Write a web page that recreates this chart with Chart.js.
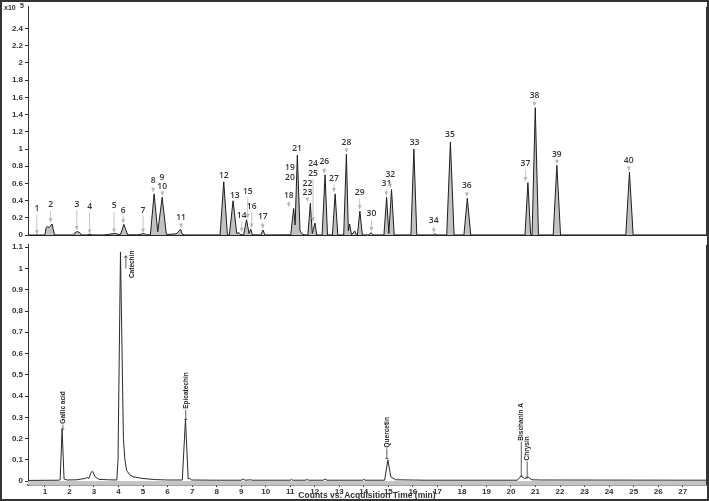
<!DOCTYPE html>
<html>
<head>
<meta charset="utf-8">
<script src="https://cdn.jsdelivr.net/npm/chart.js@4.4.1/dist/chart.umd.min.js"></script>
<style>
  html, body { margin: 0; padding: 0; background: #fff; }
  #wrap { position: absolute; left: 0; top: 0; width: 709px; height: 501px; overflow: hidden; }
  #topChart { position: absolute; left: 0; top: 0; }
  #bottomChart { position: absolute; left: 0; top: 238px; }
  #frame { position: absolute; left: 0; top: 0; width: 709px; height: 501px; box-sizing: border-box;
           border: 2px solid #333; pointer-events: none; }
</style>
</head>
<body>
<div id="wrap">
  <canvas id="topChart" width="709" height="242"></canvas>
  <canvas id="bottomChart" width="709" height="263"></canvas>
  <div id="frame"></div>
</div>
<script>
// Time axis (min)
const timeMin = 0.31;
const timeMax = 27.95;
const timeTicks = [1, 2, 3, 4, 5, 6, 7, 8, 9, 10, 11, 12, 13, 14, 15, 16, 17, 18, 19, 20, 21, 22, 23, 24, 25, 26, 27];

// Upper chromatogram (counts x10^5)
const topTicks = [0, 0.2, 0.4, 0.6, 0.8, 1, 1.2, 1.4, 1.6, 1.8, 2, 2.2, 2.4];
const topTime = [
  0.31, 0.6, 0.67, 0.74, 1.0, 1.05, 1.1, 1.18, 1.29, 1.39, 2.18, 2.25, 2.33, 2.42, 2.48,
  2.72, 2.83, 2.95, 3.4, 3.6, 3.85, 4.02, 4.08, 4.22, 4.37, 4.8, 4.95, 5.05, 5.15,
  5.3, 5.45, 5.6, 5.78, 5.95, 6.1, 6.3, 6.38, 6.47, 6.53, 6.6, 6.7,
  8.14, 8.29, 8.44, 8.52, 8.67, 8.82, 8.91, 8.98, 9.1, 9.22, 9.32, 9.39, 9.46,
  9.8, 9.89, 9.97, 11.02, 11.14, 11.2, 11.29, 11.4, 11.5, 11.6,
  11.72, 11.82, 11.9, 12.01, 12.08, 12.3, 12.42, 12.52, 12.72, 12.83, 12.94,
  13.18, 13.29, 13.37, 13.42, 13.5, 13.63, 13.7, 13.74, 13.84, 13.94,
  14.2, 14.29, 14.38, 14.82, 14.93, 15.02, 15.13, 15.24,
  15.92, 16.04, 16.16, 16.85, 16.9, 16.95, 17.38, 17.53, 17.68, 18.08, 18.22, 18.36,
  20.57, 20.69, 20.8, 20.86, 20.99, 21.12, 21.72, 21.87, 22.02, 24.68, 24.83, 24.98, 27.95
];
const topSignal = [
  0.002, 0.002, 0.005, 0.002, 0.003, 0.09, 0.1, 0.09, 0.13, 0.003, 0.003, 0.035, 0.042, 0.03, 0.003,
  0.003, 0.012, 0.003, 0.003, 0.01, 0.02, 0.008, 0.01, 0.125, 0.005, 0.004, 0.015, 0.018, 0.005,
  0.005, 0.48, 0.04, 0.44, 0.01, 0.01, 0.015, 0.02, 0.05, 0.07, 0.01, 0.003,
  0.003, 0.62, 0.005, 0.005, 0.4, 0.02, 0.03, 0.005, 0.005, 0.18, 0.02, 0.07, 0.005,
  0.003, 0.06, 0.003, 0.005, 0.31, 0.12, 0.93, 0.05, 0.01, 0.003,
  0.003, 0.37, 0.02, 0.14, 0.003, 0.003, 0.7, 0.003, 0.003, 0.48, 0.003,
  0.003, 0.94, 0.05, 0.13, 0.005, 0.05, 0.003, 0.003, 0.28, 0.003,
  0.003, 0.03, 0.003, 0.003, 0.44, 0.02, 0.53, 0.003,
  0.003, 1.0, 0.003, 0.003, 0.02, 0.003, 0.003, 1.08, 0.003, 0.003, 0.43, 0.003,
  0.003, 0.61, 0.01, 0.003, 1.48, 0.003, 0.003, 0.81, 0.003, 0.003, 0.73, 0.003, 0.003
];

// Peak numbers of the upper trace
const peakNumbers = ["1", "2", "3", "4", "5", "6", "7", "8", "9", "10", "11", "12", "13", "14", "15", "16", "17", "18", "19", "20",
  "21", "22", "23", "24", "25", "26", "27", "28", "29", "30", "31", "32", "33", "34", "35", "36", "37", "38", "39", "40"];
const peakLabelTime = [0.67, 1.23, 2.3, 2.82, 3.82, 4.19, 5.0, 5.41, 5.77, 5.78, 6.55, 8.29, 8.74, 9.02, 9.27, 9.43, 9.88, 10.94, 10.99, 10.99,
  11.28, 11.7, 11.7, 11.93, 11.93, 12.39, 12.78, 13.29, 13.83, 14.31, 14.92, 15.08, 16.07, 16.85, 17.51, 18.2, 20.59, 20.96, 21.87, 24.8];
const peakLabelLevel = [0.31, 0.35, 0.36, 0.33, 0.34, 0.29, 0.29, 0.63, 0.67, 0.56, 0.2, 0.69, 0.46, 0.23, 0.51, 0.33, 0.22, 0.46, 0.78, 0.67,
  1.0, 0.6, 0.49, 0.83, 0.72, 0.85, 0.66, 1.07, 0.49, 0.25, 0.6, 0.7, 1.08, 0.17, 1.17, 0.57, 0.83, 1.62, 0.94, 0.86];
const peakArrowTo = [0.01, 0.15, 0.06, 0.02, 0.03, 0.14, 0.03, 0.5, null, 0.46, 0.09, 0.64, 0.42, 0.04, 0.2, 0.09, 0.08, 0.33, null, null,
  null, null, 0.39, null, 0.16, 0.72, 0.5, 0.96, 0.3, 0.05, 0.46, 0.55, null, 0.03, null, 0.45, 0.63, 1.5, 0.83, 0.75];

// Lower chromatogram (standards)
const bottomTicks = [0, 0.05, 0.1, 0.15, 0.2, 0.25, 0.3, 0.35, 0.4, 0.45, 0.5, 0.55, 0.6, 0.65, 0.7, 0.75, 0.8, 0.85, 0.9, 0.95, 1, 1.05, 1.1];
const bottomTime = [
  0.31, 1.55, 1.62, 1.7, 1.78, 1.9, 2.3, 2.5, 2.65, 2.72, 2.78, 2.88, 2.94, 3.05, 3.2, 3.6,
  3.93, 3.98, 4.08, 4.2, 4.26, 4.33, 4.45, 4.6, 5.0, 5.5, 6.0, 6.6, 6.73, 6.84, 6.9, 6.98,
  8.0, 9.0, 9.08, 9.16, 9.38, 9.45, 11.0, 11.05, 11.1, 11.6, 11.7, 11.75, 12.35, 12.42, 12.5,
  13.95, 14.0, 14.05, 14.85, 14.98, 15.1, 15.3, 16.5, 20.25, 20.42, 20.55, 20.71, 20.85, 21.2, 27.95
];
const bottomSignal = [
  0.003, 0.004, 0.006, 0.245, 0.01, 0.005, 0.006, 0.01, 0.012, 0.018, 0.01, 0.04, 0.046, 0.02, 0.008, 0.006,
  0.005, 0.1, 1.078, 0.2, 0.1, 0.05, 0.03, 0.02, 0.012, 0.007, 0.005, 0.005, 0.29, 0.01, 0.012, 0.005,
  0.004, 0.004, 0.01, 0.004, 0.006, 0.004, 0.004, 0.008, 0.004, 0.004, 0.007, 0.004, 0.004, 0.009, 0.004,
  0.004, 0.008, 0.004, 0.004, 0.1, 0.02, 0.006, 0.004, 0.004, 0.023, 0.012, 0.017, 0.006, 0.005, 0.004
];

// Standard compound annotations
const compoundNames = ["Gallic acid", "Catechin", "Epicatechin", "Quercetin", "Bischanin A", "Chrysin"];
const compoundTime = [1.73, 4.56, 6.74, 14.94, 20.42, 20.66];
const compoundTextFrom = [0.27, 0.955, 0.34, 0.158, 0.19, 0.097];
const compoundMark = [0.245, null, 0.29, 0.106, 0.023, 0.018];

const tickFont = { family: '"Liberation Sans", Arial, sans-serif', size: 8, weight: 'bold' };

function toPoints(xs, ys) {
    return xs.map((x, i) => ({ x: x, y: ys[i] }));
}

// Right edge line + extra annotations
const rightBorder = {
    id: 'rightBorder',
    afterDraw(chart) {
        const a = chart.chartArea;
        const ctx = chart.ctx;
        ctx.save();
        ctx.strokeStyle = '#333';
        ctx.lineWidth = 1;
        ctx.beginPath();
        ctx.moveTo(a.right + 0.5, a.top);
        ctx.lineTo(a.right + 0.5, a.bottom);
        ctx.stroke();
        ctx.restore();
    }
};

const peakLabels = {
    id: 'peakLabels',
    afterDatasetsDraw(chart) {
        const ctx = chart.ctx;
        const xs = chart.scales.x, ys = chart.scales.y;
        ctx.save();
        ctx.font = '600 8.5px "Open Sans", "DejaVu Sans", sans-serif';
        ctx.fillStyle = '#333';
        ctx.textAlign = 'center';
        ctx.textBaseline = 'middle';
        peakNumbers.forEach((label, i) => {
            const x = xs.getPixelForValue(peakLabelTime[i]);
            const y = ys.getPixelForValue(peakLabelLevel[i]);
            ctx.fillText(label, x, y);
            if (peakArrowTo[i] !== null) {
                const y2 = ys.getPixelForValue(peakArrowTo[i]);
                if (y2 - y > 8) {
                    ctx.strokeStyle = '#b5b5b5';
                    ctx.lineWidth = 0.8;
                    ctx.beginPath();
                    ctx.moveTo(x, y + 6);
                    ctx.lineTo(x, y2);
                    ctx.stroke();
                    ctx.fillStyle = '#b5b5b5';
                    ctx.beginPath();
                    ctx.moveTo(x - 2, y2 - 4);
                    ctx.lineTo(x + 2, y2 - 4);
                    ctx.lineTo(x, y2);
                    ctx.closePath();
                    ctx.fill();
                    ctx.fillStyle = '#333';
                }
            }
        });
        ctx.restore();
    }
};

const topCorner = {
    id: 'topCorner',
    afterDraw(chart) {
        const ctx = chart.ctx;
        ctx.save();
        ctx.fillStyle = '#333';
        ctx.font = 'bold 7px "Liberation Sans", Arial, sans-serif';
        ctx.textBaseline = 'middle';
        ctx.fillText('x10', 4, 8);
        ctx.fillText('5', 20, 6);
        ctx.restore();
    }
};

const compoundLabels = {
    id: 'compoundLabels',
    afterDatasetsDraw(chart) {
        const ctx = chart.ctx;
        const xs = chart.scales.x, ys = chart.scales.y;
        ctx.save();
        ctx.font = 'bold 6.5px "Liberation Sans", Arial, sans-serif';
        ctx.fillStyle = '#222';
        ctx.strokeStyle = '#333';
        ctx.lineWidth = 0.8;
        compoundNames.forEach((name, i) => {
            const x = xs.getPixelForValue(compoundTime[i]);
            const y = ys.getPixelForValue(compoundTextFrom[i]);
            ctx.save();
            ctx.translate(x, y);
            ctx.rotate(-Math.PI / 2);
            ctx.textAlign = 'left';
            ctx.textBaseline = 'middle';
            ctx.fillText(name, 0, 0);
            ctx.restore();
            if (compoundMark[i] !== null) {
                const y2 = ys.getPixelForValue(compoundMark[i]);
                ctx.beginPath();
                ctx.moveTo(x, y + 1);
                ctx.lineTo(x, y2);
                ctx.moveTo(x - 1.5, y2);
                ctx.lineTo(x + 1.5, y2);
                ctx.stroke();
            }
        });
        // small arrow beside the catechin apex
        const ax = xs.getPixelForValue(4.3);
        ctx.beginPath();
        ctx.moveTo(ax, ys.getPixelForValue(1.0));
        ctx.lineTo(ax, ys.getPixelForValue(1.06));
        ctx.moveTo(ax - 1.5, ys.getPixelForValue(1.05));
        ctx.lineTo(ax, ys.getPixelForValue(1.06));
        ctx.lineTo(ax + 1.5, ys.getPixelForValue(1.05));
        ctx.stroke();
        ctx.restore();
    }
};

const baseBand = {
    id: 'baseBand',
    beforeDatasetsDraw(chart) {
        const a = chart.chartArea;
        const ctx = chart.ctx;
        const y0 = chart.scales.y.getPixelForValue(0);
        ctx.save();
        ctx.fillStyle = '#c4c4c4';
        ctx.fillRect(a.left, y0, a.right - a.left, a.bottom - y0);
        ctx.restore();
    }
};

const axisTitle = {
    id: 'axisTitle',
    afterDraw(chart) {
        const a = chart.chartArea;
        const ctx = chart.ctx;
        ctx.save();
        ctx.font = 'bold 8.5px "Liberation Sans", Arial, sans-serif';
        ctx.fillStyle = '#333';
        ctx.textAlign = 'center';
        ctx.textBaseline = 'middle';
        ctx.fillText('Counts vs. Acquisition Time (min)', (a.left + a.right) / 2, a.bottom + 11);
        ctx.restore();
    }
};

function yAxis(min, max, tickValues) {
    return {
        type: 'linear',
        min: min,
        max: max,
        afterFit: s => { s.width = 28; },
        afterBuildTicks: s => { s.ticks = tickValues.map(v => ({ value: v })); },
        grid: { drawOnChartArea: false, drawTicks: true, tickLength: 3, color: '#333' },
        border: { display: true, color: '#333', width: 1 },
        ticks: {
            font: tickFont,
            color: '#333',
            padding: 2,
            callback: v => String(Math.round(v * 100) / 100)
        }
    };
}

// Upper panel: sample chromatogram with numbered peaks
new Chart(document.getElementById('topChart'), {
    type: 'line',
    data: {
        datasets: [{
            data: toPoints(topTime, topSignal),
            borderColor: '#1e1e1e',
            borderWidth: 1,
            backgroundColor: '#c2c2c2',
            fill: 'origin',
            pointRadius: 0,
            tension: 0
        }]
    },
    options: {
        responsive: false,
        animation: false,
        devicePixelRatio: 1,
        layout: { padding: { top: 3, right: 3, bottom: 4, left: 0 } },
        plugins: { legend: { display: false }, tooltip: { enabled: false } },
        scales: {
            x: {
                type: 'linear',
                min: timeMin,
                max: timeMax,
                afterFit: s => { s.height = 0; },
                grid: { display: false },
                border: { display: true, color: '#222', width: 1 },
                ticks: { display: false }
            },
            y: yAxis(0, 2.65, topTicks)
        }
    },
    plugins: [rightBorder, peakLabels, topCorner]
});

// Lower panel: standards chromatogram
new Chart(document.getElementById('bottomChart'), {
    type: 'line',
    data: {
        datasets: [{
            data: toPoints(bottomTime, bottomSignal),
            borderColor: '#2a2a2a',
            borderWidth: 1,
            fill: false,
            pointRadius: 0,
            tension: 0
        }]
    },
    options: {
        responsive: false,
        animation: false,
        devicePixelRatio: 1,
        layout: { padding: { top: 2, right: 3, bottom: 0, left: 0 } },
        plugins: { legend: { display: false }, tooltip: { enabled: false } },
        scales: {
            x: {
                type: 'linear',
                min: timeMin,
                max: timeMax,
                afterFit: s => { s.height = 16; },
                afterBuildTicks: s => { s.ticks = timeTicks.map(v => ({ value: v })); },
                grid: { drawOnChartArea: false, drawTicks: true, tickLength: 2, color: '#333' },
                border: { display: true, color: '#444', width: 1.5 },
                ticks: { font: tickFont, color: '#333', padding: 0, maxRotation: 0, autoSkip: false,
                         callback: v => String(v) }
            },
            y: yAxis(-0.0185, 1.1116, bottomTicks)
        }
    },
    plugins: [baseBand, rightBorder, compoundLabels, axisTitle]
});
</script>
</body>
</html>
